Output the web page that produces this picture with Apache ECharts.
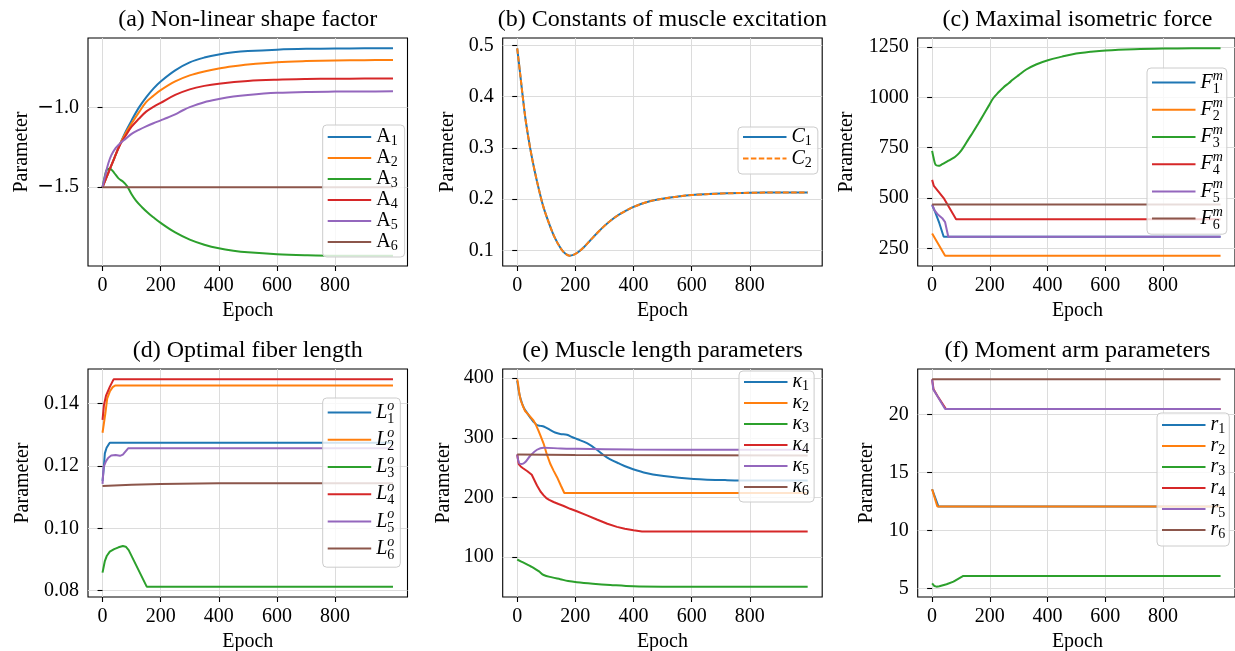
<!DOCTYPE html>
<html><head><meta charset="utf-8">
<script src="https://cdn.jsdelivr.net/npm/echarts@6/dist/echarts.min.js"></script>
<style>html,body{margin:0;padding:0;background:#fff}#c{width:1235px;height:651px}</style>
</head><body><div id="c"></div>
<script>
// ---------------- DATA ----------------
const xTicks = [0, 200, 400, 600, 800];

const A1 = [[0,-1.5],[20,-1.41],[40,-1.32],[60,-1.23],[80,-1.15],[100,-1.08],[125,-1.0],[150,-0.935],[175,-0.88],[200,-0.835],[250,-0.765],[300,-0.715],[350,-0.685],[400,-0.665],[450,-0.652],[500,-0.644],[600,-0.635],[700,-0.63],[800,-0.628],[900,-0.627],[999,-0.627]];
const A2 = [[0,-1.5],[20,-1.41],[40,-1.32],[60,-1.23],[80,-1.16],[100,-1.10],[125,-1.03],[150,-0.965],[175,-0.925],[200,-0.89],[250,-0.835],[300,-0.797],[350,-0.772],[400,-0.753],[450,-0.739],[500,-0.728],[600,-0.714],[700,-0.707],[800,-0.703],[900,-0.701],[999,-0.70]];
const A3 = [[0,-1.5],[8,-1.43],[15,-1.39],[25,-1.385],[40,-1.41],[55,-1.445],[70,-1.465],[85,-1.495],[100,-1.545],[115,-1.585],[135,-1.625],[155,-1.66],[175,-1.69],[200,-1.725],[250,-1.785],[300,-1.83],[350,-1.862],[400,-1.885],[450,-1.9],[500,-1.91],[600,-1.922],[700,-1.928],[800,-1.931],[900,-1.931],[999,-1.931]];
const A4 = [[0,-1.5],[20,-1.41],[40,-1.32],[60,-1.235],[80,-1.175],[100,-1.12],[125,-1.07],[150,-1.025],[175,-0.995],[200,-0.97],[250,-0.92],[300,-0.885],[350,-0.863],[400,-0.849],[500,-0.832],[600,-0.824],[700,-0.82],[800,-0.818],[900,-0.817],[999,-0.816]];
const A5 = [[0,-1.5],[10,-1.42],[20,-1.35],[30,-1.3],[45,-1.255],[60,-1.225],[80,-1.195],[100,-1.165],[125,-1.14],[150,-1.118],[175,-1.098],[200,-1.08],[225,-1.062],[250,-1.042],[275,-1.018],[300,-0.997],[350,-0.966],[400,-0.946],[450,-0.93],[500,-0.92],[600,-0.907],[700,-0.901],[800,-0.899],[900,-0.898],[999,-0.897]];
const A6 = [[0,-1.5],[999,-1.5]];

const C1 = [[0,0.494],[10,0.445],[20,0.395],[30,0.35],[45,0.298],[60,0.255],[75,0.218],[90,0.185],[110,0.152],[130,0.124],[150,0.104],[165,0.094],[180,0.090],[195,0.092],[210,0.097],[230,0.107],[250,0.119],[275,0.134],[300,0.148],[325,0.16],[350,0.17],[375,0.178],[400,0.185],[450,0.195],[500,0.201],[550,0.205],[600,0.208],[700,0.211],[800,0.2125],[900,0.213],[999,0.213]];
const C2 = [[0,0.494],[10,0.445],[20,0.395],[30,0.35],[45,0.298],[60,0.255],[75,0.218],[90,0.185],[110,0.152],[130,0.124],[150,0.104],[165,0.094],[180,0.090],[195,0.092],[210,0.097],[230,0.107],[250,0.119],[275,0.134],[300,0.148],[325,0.16],[350,0.17],[375,0.178],[400,0.185],[450,0.195],[500,0.201],[550,0.205],[600,0.208],[700,0.211],[800,0.2125],[900,0.213],[999,0.213]];

const F1 = [[0,465],[10,432],[25,375],[40,308],[999,308]];
const F2 = [[0,324],[45,214],[999,214]];
const F3 = [[0,734],[5,700],[12,665],[22,660],[35,668],[50,680],[65,692],[80,705],[95,725],[110,755],[125,790],[142,828],[160,870],[177,911],[195,955],[211,994],[230,1025],[246,1048],[265,1070],[280,1088],[300,1110],[326,1138],[360,1163],[401,1184],[450,1202],[487,1214],[550,1226],[602,1233],[700,1239],[800,1242],[900,1243],[999,1243]];
const F4 = [[0,590],[6,560],[40,500],[83,395],[999,395]];
const F5 = [[0,468],[8,440],[20,418],[35,400],[45,380],[56,308],[999,308]];
const F6 = [[0,468],[999,468]];

const L1 = [[0,0.1152],[4,0.119],[8,0.124],[14,0.1258],[20,0.1267],[25,0.1274],[999,0.1274]];
const L2 = [[0,0.1306],[4,0.1306],[10,0.137],[16,0.1415],[25,0.1438],[35,0.1452],[43,0.1457],[999,0.1457]];
const L3 = [[0,0.0858],[8,0.0895],[15,0.0912],[25,0.0925],[40,0.0933],[55,0.0939],[70,0.0943],[80,0.0941],[90,0.093],[152,0.0813],[999,0.0813]];
const L4 = [[0,0.1347],[5,0.1395],[12,0.1425],[25,0.1453],[38,0.1477],[999,0.1477]];
const L5 = [[0,0.1142],[4,0.1197],[12,0.1215],[20,0.1226],[30,0.1233],[45,0.1235],[60,0.1232],[70,0.1236],[88,0.1256],[999,0.1256]];
const L6 = [[0,0.1135],[100,0.1139],[200,0.1142],[400,0.1144],[999,0.1144]];

const K1 = [[0,395.5],[5,380],[10,368],[22,351],[35,341],[45,334],[56,327],[68,321.5],[80,320],[91,319],[114,313],[130,309],[148,306.5],[171,305],[190,301],[205,298],[240,291],[274,280],[300,270],[320,264],[350,257],[378,251],[435,242],[504,236],[607,231],[722,229],[850,228.5],[999,228.5]];
const K2 = [[0,398],[3,390],[7,375],[12,363],[18,355],[27,345],[40,338],[56,329],[65,321],[73,312],[82,301],[91,290],[102,272],[114,256],[125,245],[137,234],[150,220],[162,207.5],[999,207.5]];
const K3 = [[0,96],[20,91],[40,86],[56,82],[75,76],[91,70],[120,66],[148,63],[175,60],[205,58],[260,55.5],[320,53.3],[400,51],[500,50.5],[999,50.5]];
const K4 = [[0,272],[5,256],[12,252],[20,249],[35,244],[50,238],[60,228],[68,220],[80,210],[91,203.5],[100,199],[110,196],[125,192.4],[142,189],[160,185.7],[182,181],[205,176.8],[240,170],[274,163],[310,156],[343,150.7],[370,147.5],[400,145],[429,143],[999,143]];
const K5 = [[0,272],[6,258],[15,256],[27,259],[45,270],[68,280],[91,283.5],[150,282],[205,281.5],[400,280.5],[700,280],[999,279.8]];
const K6 = [[0,272],[200,271],[999,270.3]];

const R1 = [[0,13.55],[22,12.06],[999,12.06]];
const R2 = [[0,13.55],[18,12.06],[999,12.06]];
const R3 = [[0,5.46],[8,5.22],[15,5.17],[25,5.2],[50,5.38],[74,5.6],[108,6.09],[999,6.09]];
const R4 = [[0,23.0],[5,22.15],[18,21.6],[48,20.46],[999,20.46]];
const R5 = [[0,23.0],[4,22.15],[16,21.66],[45,20.46],[999,20.46]];
const R6 = [[0,23.01],[999,23.01]];

const yTicksA = [-1.5, -1.0];
const yTicksB = [0.1, 0.2, 0.3, 0.4, 0.5];
const yTicksC = [250, 500, 750, 1000, 1250];
const yTicksD = [0.08, 0.10, 0.12, 0.14];
const yTicksE = [100, 200, 300, 400];
const yTicksF = [5, 10, 15, 20];

const titles = ['(a) Non-linear shape factor','(b) Constants of muscle excitation','(c) Maximal isometric force','(d) Optimal fiber length','(e) Muscle length parameters','(f) Moment arm parameters'];

// ---------------- LAYOUT / STYLE ----------------
const FONT = 'Liberation Serif';
const COLORS = ['#1f77b4','#ff7f0e','#2ca02c','#d62728','#9467bd','#8c564b'];
const W = 319.5, H = 228;

const panels = [
  {left:88, top:38, data:[A1,A2,A3,A4,A5,A6], names:['A1','A2','A3','A4','A5','A6'], ticks:yTicksA,
   fmt:v=>'{m|−}'+Math.abs(v).toFixed(1), smooth:[1,1,1,1,1,0], ylx:21.7,
   lg:{left:322.7, top:125, padding:[2,7,4,4]}, lab:n=>`{u22|A}{s|${n.slice(1)}}`},
  {left:502.7, top:38, data:[C1,C2], names:['C1','C2'], ticks:yTicksB, fmt:v=>v.toFixed(1), smooth:[1,1], ylx:447.3,
   lg:{left:738, top:127, padding:[0,6,4,4]}, lab:n=>`{i23|C}{s|${n.slice(1)}}`},
  {left:917.7, top:38, data:[F1,F2,F3,F4,F5,F6], names:['F1','F2','F3','F4','F5','F6'], ticks:yTicksC, fmt:v=>String(v), smooth:[0,0,1,0,0,0], ylx:846.7,
   lg:{left:1147, top:68, padding:[1,4,2,4]}, lab:n=>`{i27|F}{sp|m}{sb|${n.slice(1)}}`},
  {left:88, top:369, data:[L1,L2,L3,L4,L5,L6], names:['L1','L2','L3','L4','L5','L6'], ticks:yTicksD, fmt:v=>v.toFixed(2), smooth:[0,0,0,0,0,0], ylx:22.7,
   lg:{left:322.7, top:398, padding:[1,6,5,4]}, lab:n=>`{i27|L}{sp|o}{sb|${n.slice(1)}}`},
  {left:502.7, top:369, data:[K1,K2,K3,K4,K5,K6], names:['κ1','κ2','κ3','κ4','κ5','κ6'], ticks:yTicksE, fmt:v=>String(v), smooth:[1,0,1,0,1,0], ylx:443.3,
   lg:{left:739, top:371, padding:[1,5,4,4]}, lab:n=>`{i22|κ}{s|${n.slice(1)}}`},
  {left:917.7, top:369, data:[R1,R2,R3,R4,R5,R6], names:['r1','r2','r3','r4','r5','r6'], ticks:yTicksF, fmt:v=>String(v), smooth:[0,0,0,0,0,0], ylx:866.7,
   lg:{left:1157, top:413, padding:[2,4,5,4]}, lab:n=>`{i22|r}{s|${n.slice(1)}}`}
];

const rich = {
  u22:{fontFamily:FONT, fontSize:20, lineHeight:22, color:'#000'},
  i22:{fontFamily:FONT, fontSize:20, fontStyle:'italic', lineHeight:22, color:'#000'},
  i23:{fontFamily:FONT, fontSize:20, fontStyle:'italic', lineHeight:23, color:'#000'},
  i27:{fontFamily:FONT, fontSize:20, fontStyle:'italic', lineHeight:27.2, color:'#000'},
  s:{fontFamily:FONT, fontSize:14, lineHeight:11, verticalAlign:'bottom', color:'#000'},
  sp:{fontFamily:FONT, fontSize:14, fontStyle:'italic', lineHeight:12, verticalAlign:'top', width:0, color:'#000'},
  sb:{fontFamily:FONT, fontSize:14, lineHeight:12, verticalAlign:'bottom', color:'#000'}
};

const option = {animation:false, backgroundColor:'#fff', grid:[], xAxis:[], yAxis:[], series:[], legend:[], graphic:[]};

panels.forEach((p, gi) => {
  const ys = [].concat(...p.data.map(s => s.map(d => d[1])));
  const xs = [].concat(...p.data.map(s => s.map(d => d[0])));
  const ymin = Math.min(...ys), ymax = Math.max(...ys), ym = (ymax - ymin) * 0.05;
  const xmin = Math.min(...xs), xmax = Math.max(...xs), xm = (xmax - xmin) * 0.05;
  option.grid.push({left:p.left, top:p.top, width:W, height:H, show:true, borderColor:'#000', borderWidth:1.1, backgroundColor:'transparent'});
  option.xAxis.push({type:'value', gridIndex:gi, min:xmin - xm, max:xmax + xm,
    axisLine:{show:false},
    axisTick:{show:true, length:5, customValues:xTicks, lineStyle:{color:'#000', width:1.1}},
    axisLabel:{customValues:xTicks, margin:10, fontFamily:FONT, fontSize:20, color:'#000', formatter:v=>String(v)},
    splitLine:{show:true, lineStyle:{color:'#dcdcdc', width:1}}});
  option.yAxis.push({type:'value', gridIndex:gi, min:ymin - ym, max:ymax + ym,
    axisLine:{show:false},
    axisTick:{show:true, length:5, customValues:p.ticks, lineStyle:{color:'#000', width:1.1}},
    axisLabel:{customValues:p.ticks, margin:9, fontFamily:FONT, fontSize:20, color:'#000', formatter:p.fmt,
      rich:{m:{fontFamily:'DejaVu Sans', fontSize:20, color:'#000'}}},
    splitLine:{show:true, lineStyle:{color:'#dcdcdc', width:1}}});
  p.data.forEach((d, si) => {
    option.series.push({type:'line', name:p.names[si], xAxisIndex:gi, yAxisIndex:gi, data:d,
      showSymbol:false, symbol:'none', smooth:p.smooth[si] ? 0.35 : false,
      lineStyle:{color:COLORS[si], width:2, type:(gi===1 && si===1) ? [5.5,2.4] : 'solid'},
      itemStyle:{color:COLORS[si]}, z:2});
  });
  option.legend.push({data:p.names, orient:'vertical', left:p.lg.left, top:p.lg.top, padding:p.lg.padding,
    itemGap:0, itemWidth:43.5, itemHeight:10, selectedMode:false,
    itemStyle:{opacity:0, borderWidth:0},
    backgroundColor:'rgba(255,255,255,0.8)', borderColor:'#cccccc', borderWidth:1, borderRadius:4,
    textStyle:{fontFamily:FONT, fontSize:20, color:'#000', rich:rich},
    formatter:p.lab, z:10});
  const cx = p.left + W / 2;
  option.graphic.push({type:'text', x:cx, y:p.top - 18, style:{text:titles[gi], font:'24px "Liberation Serif"', fill:'#000', align:'center', verticalAlign:'middle'}});
  option.graphic.push({type:'text', x:cx, y:p.top + H + 45, style:{text:'Epoch', font:'20px "Liberation Serif"', fill:'#000', align:'center', verticalAlign:'middle'}});
  option.graphic.push({type:'text', x:p.ylx, y:p.top + H / 2, rotation:Math.PI / 2, style:{text:'Parameter', font:'20px "Liberation Serif"', fill:'#000', align:'center', verticalAlign:'middle'}});
});

const chart = echarts.init(document.getElementById('c'), null, {renderer:'canvas'});
chart.setOption(option);
</script></body></html>
